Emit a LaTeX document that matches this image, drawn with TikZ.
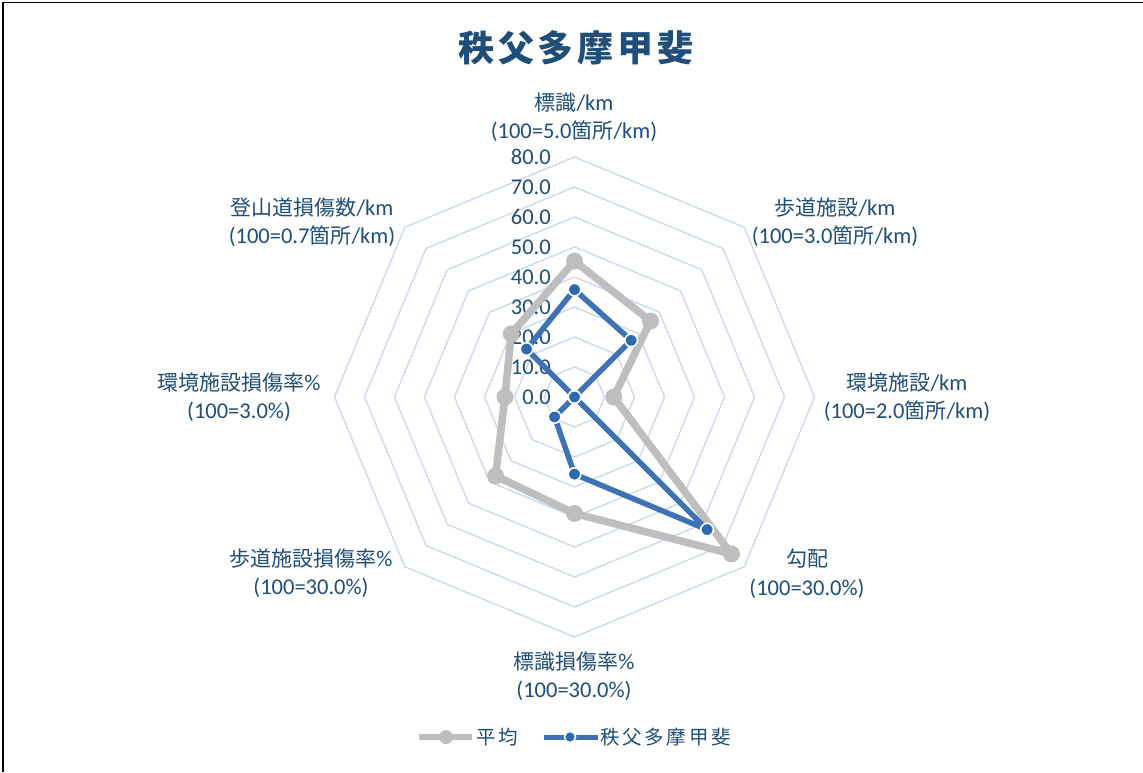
\documentclass[tikz,border=0pt]{standalone}
\usepackage{fontspec}
\setmainfont{Carlito}
\newfontfamily\cjk{Noto Sans CJK JP}
\definecolor{txt}{HTML}{1F4E79}
\definecolor{gridc}{HTML}{C6D9F1}
\definecolor{avgc}{HTML}{BEBEBE}
\definecolor{serc}{HTML}{3F72B5}
\definecolor{serm}{HTML}{2C69B0}
\newcommand{\J}[1]{{\cjk\fontsize{21}{26}\selectfont #1}}
\tikzset{
  gridline/.style={draw=gridc, line width=1.3pt},
  avgline/.style={draw=avgc, line width=7.5pt, line join=round},
  avgmark/.style={fill=avgc},
  serline/.style={draw=serc, line width=5.5pt, line join=round},
  sermark/.style={fill=serm, draw=white, line width=1.6pt},
  axlabel/.style={text=txt, align=center, font=\fontsize{22.5}{28.5}\selectfont, inner sep=0pt},
  ticklabel/.style={text=txt, anchor=east, font=\fontsize{22.5}{26}\selectfont, inner sep=0pt},
  legtext/.style={text=txt, anchor=west, inner sep=0pt, font={\cjk\fontsize{19.5}{22}\selectfont\addfontfeatures{LetterSpace=14}}},
}
\begin{document}
\begin{tikzpicture}[x=1pt,y=-1pt]
\useasboundingbox (0,0) rectangle (1143,772);
\fill[white] (0,0) rectangle (1143,772);
\draw[line width=1.5pt] (3,772) -- (3,2.5) -- (1143,2.5);

\node[text=txt, inner sep=0pt, font={\cjk\bfseries\fontsize{36}{40}\selectfont\addfontfeatures{LetterSpace=11}}] (title) at (576,48) {秩父多摩甲斐};

\begin{scope}[shift={(574.5,397)}]
  \foreach \r in {1,...,8}
    \draw[gridline] (90:{\r*30pt}) \foreach \k in {1,...,7}{ -- ({90-45*\k}:{\r*30pt}) } -- cycle;
  \foreach \v [count=\i from 0] in {45.3,35.8,13.1,74,38.8,37.2,23.2,29.8}
    \coordinate (g\i) at ({90-45*\i}:{\v*3pt});
  \foreach \v [count=\i from 0] in {35.8,26.7,0,62.5,25.7,9.4,0,22.6}
    \coordinate (b\i) at ({90-45*\i}:{\v*3pt});
\end{scope}

\foreach \t [count=\i from 0] in {0.0,10.0,20.0,30.0,40.0,50.0,60.0,70.0,80.0}
  \node[ticklabel] (tick\i) at (551,{397-30*\i}) {\t};

\draw[avgline] (g0) -- (g1) -- (g2) -- (g3) -- (g4) -- (g5) -- (g6) -- (g7) -- cycle;
\foreach \i in {0,...,7} \fill[avgmark] (g\i) circle (8.5pt);
\draw[serline] (b0) -- (b1) -- (b2) -- (b3) -- (b4) -- (b5) -- (b6) -- (b7) -- cycle;
\foreach \i in {0,...,7} \filldraw[sermark] (b\i) circle (6.3pt);

\node[axlabel] (lab0) at (574,117) {\J{標識}/km\\(100=5.0\J{箇所}/km)};
\node[axlabel] (lab1) at (835,222) {\J{歩道施設}/km\\(100=3.0\J{箇所}/km)};
\node[axlabel] (lab2) at (907,397) {\J{環境施設}/km\\(100=2.0\J{箇所}/km)};
\node[axlabel] (lab3) at (807,573.5) {\J{勾配}\\(100=30.0\%)};
\node[axlabel] (lab4) at (574,676) {\J{標識損傷率}\%\\(100=30.0\%)};
\node[axlabel] (lab5) at (311,573) {\J{歩道施設損傷率}\%\\(100=30.0\%)};
\node[axlabel] (lab6) at (239,397) {\J{環境施設損傷率}\%\\(100=3.0\%)};
\node[axlabel] (lab7) at (312,222) {\J{登山道損傷数}/km\\(100=0.7\J{箇所}/km)};

% legend
\coordinate (la1) at (419,737); \coordinate (la2) at (472,737); \coordinate (lam) at (446,737);
\draw[draw=avgc, line width=6pt] (la1) -- (la2);
\fill[avgmark] (lam) circle (7pt);
\node[legtext] (leg1) at (476,737) {平均};
\coordinate (lb1) at (544,737); \coordinate (lb2) at (598,737); \coordinate (lbm) at (570,737);
\draw[draw=serc, line width=5pt] (lb1) -- (lb2);
\filldraw[fill=serm, draw=white!90!yellow, line width=1.5pt] (lbm) circle (5.5pt);
\node[legtext] (leg2) at (600,737) {秩父多摩甲斐};
\end{tikzpicture}
\end{document}
